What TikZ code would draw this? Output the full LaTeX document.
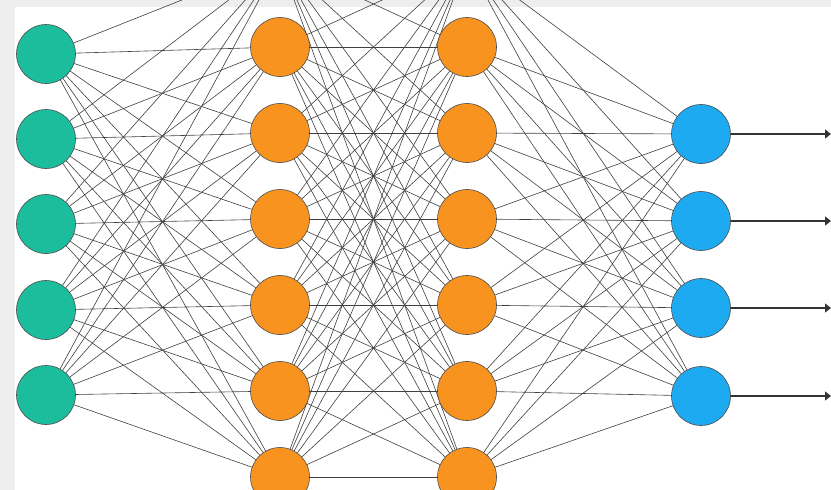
\documentclass[tikz,border=0pt]{standalone}
\usetikzlibrary{arrows.meta}
\pgfdeclarelayer{bg}
\pgfdeclarelayer{edges}
\pgfsetlayers{bg,edges,main}
\definecolor{pagegray}{RGB}{238,238,238}
\definecolor{inc}{RGB}{28,189,157}
\definecolor{hidc}{RGB}{247,147,30}
\definecolor{outc}{RGB}{29,170,240}

\begin{document}
\begin{tikzpicture}[x=1pt,y=-1pt,n/.style={circle,draw=black!70,line width=0.6pt,minimum size=59pt,inner sep=0pt},w/.style={draw=black!75,line width=0.6pt},a/.style={-{Triangle[length=6pt,width=9pt]},draw=black!80,line width=1.3pt}]
\useasboundingbox (0,0) rectangle (831,490);
\begin{pgfonlayer}{bg}
\fill[pagegray] (0,0) rectangle (831,490);
\fill[white] (15,7) rectangle (831,490);
\end{pgfonlayer}
% layers of neurons
\foreach \i/\y in {1/54,2/139,3/224,4/310,5/395} \node[n,fill=inc](in\i) at (46,\y){};
\foreach \i in {0,...,6} {\node[n,fill=hidc](ha\i) at (280,{-39+86*\i}){};\node[n,fill=hidc](hb\i) at (467,{-39+86*\i}){};}
\foreach \i/\y in {1/134,2/221,3/308,4/396} {\node[n,fill=outc](out\i) at (701,\y){};\coordinate(o\i) at (831,\y);}
% weights
\begin{pgfonlayer}{edges}
\clip (0,0) rectangle (831,490);
\foreach \i in {1,...,5} \foreach \j in {0,...,6} \draw[w](in\i)--(ha\j);
\foreach \i in {0,...,6} \foreach \j in {0,...,6} \draw[w](ha\i)--(hb\j);
\foreach \i in {0,...,6} \foreach \j in {1,...,4} \draw[w](hb\i)--(out\j);
\end{pgfonlayer}
\foreach \i in {1,...,4} \draw[a](out\i)--(o\i);
\end{tikzpicture}
\end{document}
